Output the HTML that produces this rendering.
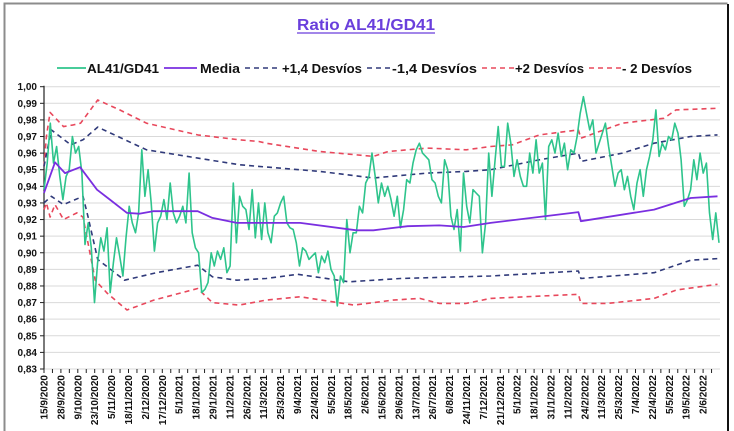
<!DOCTYPE html>
<html><head><meta charset="utf-8"><style>
html,body{margin:0;padding:0;background:#fff;}
svg{display:block;font-family:"Liberation Sans",sans-serif;}
</style></head><body>
<svg id="chart" width="734" height="431" viewBox="0 0 734 431" xmlns="http://www.w3.org/2000/svg">
<rect x="0" y="0" width="734" height="431" fill="#fff"/>
<path d="M4.5,431 V3.5 H727.5" fill="none" stroke="#8c8c8c" stroke-width="2"/>
<line x1="728" y1="4" x2="728" y2="431" stroke="#111" stroke-width="2"/>
<text x="366" y="30" text-anchor="middle" font-size="16" font-weight="bold" fill="#6a3fdc" textLength="138" lengthAdjust="spacingAndGlyphs">Ratio AL41/GD41</text>
<line x1="297" y1="33" x2="435" y2="33" stroke="#6a3fdc" stroke-width="1.2"/>
<g id="legend" font-size="13" font-weight="bold" fill="#111">
 <g><line x1="57" y1="68" x2="86" y2="68" stroke="#2ec48c" stroke-width="1.8"/><text x="87" y="73" textLength="72" lengthAdjust="spacingAndGlyphs">AL41/GD41</text></g>
 <g><line x1="164" y1="68" x2="197" y2="68" stroke="#7a2fe0" stroke-width="1.8"/><text x="200" y="73" textLength="40" lengthAdjust="spacingAndGlyphs">Media</text></g>
 <g><line x1="245" y1="68" x2="278" y2="68" stroke="#303a7a" stroke-width="1.6" stroke-dasharray="5,4"/><text x="282" y="73" textLength="80" lengthAdjust="spacingAndGlyphs">+1,4 Desvíos</text></g>
 <g><line x1="367" y1="68" x2="391" y2="68" stroke="#303a7a" stroke-width="1.6" stroke-dasharray="5,4"/><text x="392" y="73" textLength="85" lengthAdjust="spacingAndGlyphs">-1,4 Desvíos</text></g>
 <g><line x1="482" y1="68" x2="514" y2="68" stroke="#e8485c" stroke-width="1.6" stroke-dasharray="5,4"/><text x="515" y="73" textLength="69" lengthAdjust="spacingAndGlyphs">+2 Desvíos</text></g>
 <g><line x1="589" y1="68" x2="621" y2="68" stroke="#e8485c" stroke-width="1.6" stroke-dasharray="5,4"/><text x="622" y="73" textLength="70" lengthAdjust="spacingAndGlyphs">- 2 Desvíos</text></g>
</g>
<g id="grid"></g>
<g id="yaxis"></g>
<g id="xaxis"></g>
<g id="series"></g>
</svg>
<script>
const yTicks = [1.00,0.99,0.98,0.97,0.96,0.95,0.94,0.93,0.92,0.91,0.90,0.89,0.88,0.87,0.86,0.85,0.84,0.83];
const xTickLabels = ["15/9/2020","28/9/2020","9/10/2020","23/10/2020","5/11/2020","18/11/2020","2/12/2020","17/12/2020","5/1/2021","18/1/2021","29/1/2021","11/2/2021","26/2/2021","11/3/2021","25/3/2021","9/4/2021","22/4/2021","5/5/2021","18/5/2021","2/6/2021","15/6/2021","29/6/2021","13/7/2021","26/7/2021","6/8/2021","24/11/2021","7/12/2021","21/12/2021","5/1/2022","18/1/2022","31/1/2022","11/2/2022","24/2/2022","11/3/2022","25/3/2022","7/4/2022","22/4/2022","5/5/2022","19/5/2022","2/6/2022"];
const ratioValues = [.938,.954,.978,.954,.964,.946,.932,.946,.950,.970,.960,.964,.948,.905,.918,.903,.870,.894,.909,.901,.915,.876,.894,.909,.898,.886,.909,.928,.918,.912,.924,.962,.934,.950,.930,.901,.918,.922,.932,.920,.942,.924,.918,.922,.928,.918,.948,.912,.903,.900,.876,.878,.882,.900,.892,.901,.896,.903,.888,.892,.942,.906,.934,.928,.926,.914,.938,.909,.930,
.908,.930,.912,.906,.922,.924,.930,.934,.918,.915,.914,.906,.892,.903,.901,.896,.898,.900,.888,.898,.894,.901,.890,.886,.868,.886,.882,.920,.900,.912,.912,.928,.924,.942,.946,.960,.946,.930,.942,.934,.940,.932,.922,.934,.915,.926,.944,.942,.954,.962,.966,.960,.958,.956,.944,.942,.934,.930,.956,.950,.922,.914,.926,.901,.948,.928,.918,.938,.936,
.934,.900,.918,.960,.934,.956,.976,.952,.952,.978,.966,.946,.956,.946,.940,.940,.960,.948,.968,.948,.954,.920,.964,.968,.960,.972,.958,.966,.950,.962,.960,.970,.984,.994,.984,.974,.980,.960,.966,.972,.978,.964,.952,.940,.948,.950,.938,.946,.934,.926,.942,.950,.934,.950,.958,.968,.986,.958,.966,.962,.970,.968,.978,.972,.956,.928,.932,.938,.956,.944,.960,.948,.954,.924,.908,.924,.906];
const mediaSeries = [[0,.936],[4.5,.9545],[8.6,.948],[14.8,.9515],[21.7,.938],[27,.932],[34,.924],[39,.9235],[44.7,.925],[63,.925],[69,.921],[79,.918],[105,.918],[128,.9135],[135,.9135],[149,.916],[162,.9165],[172,.9155],[183,.918],[219,.9245],[220,.919],[250,.926],[265,.933],[276,.934]];
const plus14Series = [[0,.952],[3,.974],[11,.965],[16,.968],[22,.9757],[42,.962],[63,.957],[80,.953],[88,.952],[113,.949],[135,.945],[157,.948],[173,.949],[183,.950],[203,.956],[219,.960],[220,.955],[237,.960],[250,.966],[265,.970],[276,.971]];
const minus14Series = [[0,.930],[3,.934],[8,.929],[16,.934],[18,.922],[22,.896],[33,.8835],[46,.888],[63,.8925],[69,.8855],[79,.8835],[91,.8845],[104,.887],[125,.8825],[146,.8845],[183,.886],[219,.889],[220,.8845],[250,.888],[265,.8955],[276,.8965]];
const plus2Series = [[0,.952],[1,.970],[2.5,.9845],[8,.976],[12,.977],[15,.978],[22,.992],[31,.986],[42,.978],[63,.971],[80,.968],[88,.967],[91,.966],[113,.961],[135,.958],[141,.961],[157,.963],[173,.962],[183,.964],[192,.965],[203,.971],[219,.974],[220,.969],[237,.978],[254,.981],[259,.986],[276,.987]];
const minus2Series = [[0,.926],[1,.930],[2.5,.9215],[4.5,.929],[8,.920],[13.5,.924],[16,.9215],[21,.8835],[26,.8755],[34,.8655],[45,.8715],[63,.8785],[69,.870],[80,.8685],[91,.8715],[105,.8735],[127,.8685],[143,.8715],[154,.8725],[162,.8695],[173,.8695],[183,.8725],[219,.875],[220,.8695],[231,.8695],[250,.8725],[259,.8775],[276,.881]];

const NS = "http://www.w3.org/2000/svg";
const X0 = 44, X1 = 719, DMAX = 276.6, YTOP = 86.7, YBOT = 369;
const LABEL_STEP = 16.9 / ((X1 - X0) / DMAX);
const xScale = d => X0 + d / DMAX * (X1 - X0);
const yScale = v => YTOP + (1 - v) / 0.17 * (YBOT - YTOP);
function mk(tag, attrs, parent) { const e = document.createElementNS(NS, tag); for (const k in attrs) e.setAttribute(k, attrs[k]); parent.appendChild(e); return e; }
const grid = document.getElementById('grid'), yaxis = document.getElementById('yaxis'), xaxis = document.getElementById('xaxis'), series = document.getElementById('series');
yTicks.forEach(v => {
  const y = yScale(v);
  const g = mk('line', {x1: X0, y1: y, x2: X1 + 1, y2: y, stroke: '#d9d9d9', 'stroke-width': 1}, grid);
  
  
  const t = mk('line', {x1: X0 - 4, y1: y, x2: X0, y2: y, stroke: '#222', 'stroke-width': 1}, yaxis);
  
  
  const l = mk('text', {x: X0 - 7, y: y + 3.5, 'text-anchor': 'end', 'font-size': 10, 'font-weight': 'bold', fill: '#111'}, yaxis);
  
  
  l.textContent = v.toFixed(2).replace('.', ',');
});
const ya = mk('line', {x1: X0, y1: YTOP - 1, x2: X0, y2: YBOT, stroke: '#222', 'stroke-width': 1.2}, yaxis);


for (let d = 0; d <= DMAX; d += LABEL_STEP / 2) {
  const x = xScale(d);
  const t = mk('line', {x1: x, y1: YBOT, x2: x, y2: YBOT + 4, stroke: '#222', 'stroke-width': 1}, xaxis);
  
  
}
xTickLabels.forEach((s, i) => {
  const x = xScale(i * LABEL_STEP) + 3.5;
  const t = mk('text', {transform: `translate(${x.toFixed(1)},${YBOT + 6}) rotate(-90)`, 'text-anchor': 'end', 'font-size': 10, 'font-weight': 'bold', fill: '#111'}, xaxis);
  
  
  t.textContent = s;
});
function pathFromPairs(pairs) { return pairs.map((p, i) => (i ? 'L' : 'M') + xScale(p[0]).toFixed(1) + ',' + yScale(p[1]).toFixed(1)).join(' '); }
function addPath(d, color, w, dash, name) {
  const p = mk('path', {d: d, fill: 'none', stroke: color, 'stroke-width': w, 'stroke-linejoin': 'round'}, series);
  if (dash) p.setAttribute('stroke-dasharray', dash);
  
  
}
addPath(pathFromPairs(plus2Series), '#e8485c', 1.6, '5,4', 'plus-2-desvios-line');
addPath(pathFromPairs(minus2Series), '#e8485c', 1.6, '5,4', 'minus-2-desvios-line');
addPath(pathFromPairs(plus14Series), '#303a7a', 1.6, '5,4', 'plus-1-4-desvios-line');
addPath(pathFromPairs(minus14Series), '#303a7a', 1.6, '5,4', 'minus-1-4-desvios-line');
const nRatio = ratioValues.length;
const ratioPairs = ratioValues.map((v, i) => [i * DMAX / (nRatio - 1), v]);
addPath(pathFromPairs(ratioPairs), '#2ec48c', 1.6, null, 'al41-gd41-line');
addPath(pathFromPairs(mediaSeries), '#7a2fe0', 1.8, null, 'media-line');
</script>
</body></html>
